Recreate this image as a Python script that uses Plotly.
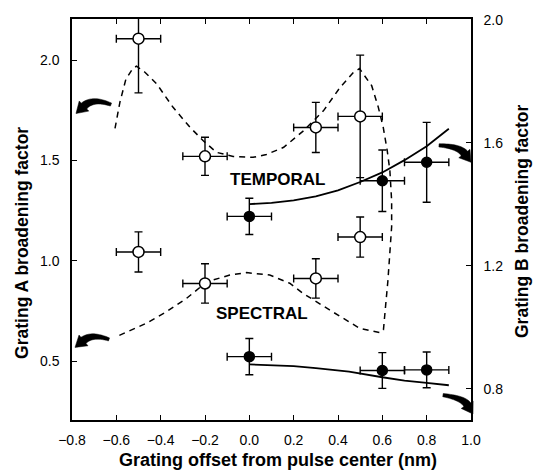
import math
import plotly.graph_objects as go

# ---------------- data ----------------
# Grating A (open circles, left axis)
a_temporal_x = [-0.5, -0.2, 0.3, 0.5]
a_temporal_y = [2.107, 1.521, 1.665, 1.72]
a_temporal_err = [0.27, 0.095, 0.125, 0.305]
a_spectral_x = [-0.5, -0.2, 0.3, 0.5]
a_spectral_y = [1.045, 0.888, 0.913, 1.119]
a_spectral_err = [0.10, 0.098, 0.098, 0.10]

# Grating B (filled circles, right axis)
b_temporal_x = [0.0, 0.6, 0.8]
b_temporal_y = [1.36, 1.476, 1.536]
b_temporal_err = [0.059, 0.10, 0.13]
b_spectral_x = [0.0, 0.6, 0.8]
b_spectral_y = [0.904, 0.859, 0.861]
b_spectral_err = [0.059, 0.058, 0.058]
x_err = 0.1

# Theory curve for grating A (dashed, left axis): temporal branch then spectral branch
curve_a_x = [-0.606, -0.584, -0.557, -0.525, -0.509, -0.471, -0.418, -0.344, -0.268,
             -0.209, -0.148, -0.073, 0.017, 0.077, 0.155, 0.245, 0.335, 0.41, 0.47,
             0.497, 0.552, 0.582, 0.604, 0.622, 0.634, 0.642, 0.642, 0.634, 0.625,
             0.615, 0.605, 0.589, 0.497, 0.362, 0.242, 0.182, 0.092, -0.013, -0.088,
             -0.164, -0.209, -0.283, -0.373, -0.464, -0.554, -0.60]
curve_a_y = [1.66, 1.79, 1.905, 1.96, 1.97, 1.94, 1.882, 1.765, 1.666,
             1.60, 1.541, 1.52, 1.516, 1.53, 1.566, 1.649, 1.749, 1.865, 1.94,
             1.958, 1.873, 1.765, 1.666, 1.55, 1.45, 1.30, 1.17, 1.02, 0.90,
             0.78, 0.657, 0.643, 0.665, 0.756, 0.839, 0.889, 0.930, 0.942, 0.930,
             0.905, 0.881, 0.814, 0.748, 0.690, 0.648, 0.623]

# Theory curves for grating B (solid, right axis)
curve_b_temporal_x = [0.0, 0.1, 0.2, 0.3, 0.4, 0.5, 0.6, 0.7, 0.8, 0.9]
curve_b_temporal_y = [1.40, 1.404, 1.412, 1.425, 1.445, 1.472, 1.503, 1.543, 1.588, 1.645]
curve_b_spectral_x = [0.0, 0.2, 0.3, 0.45, 0.6, 0.7, 0.8, 0.9]
curve_b_spectral_y = [0.879, 0.873, 0.867, 0.855, 0.837, 0.826, 0.819, 0.811]

x_ticks = [-0.8, -0.6, -0.4, -0.2, 0.0, 0.2, 0.4, 0.6, 0.8, 1.0]
ya_ticks = [0.5, 1.0, 1.5, 2.0]
yb_ticks = [0.8, 1.2, 1.6, 2.0]

# ---------------- figure ----------------
W, H = 534, 470
ML, MR, MT, MB = 72, 63, 17, 50
PW, PH = W - ML - MR, H - MT - MB

fig = go.Figure()

fig.add_trace(go.Scatter(x=curve_a_x, y=curve_a_y, mode="lines",
                         line=dict(color="black", width=1.5, dash="6px,5px"),
                         hoverinfo="skip"))
fig.add_trace(go.Scatter(x=curve_b_temporal_x, y=curve_b_temporal_y, mode="lines", yaxis="y2",
                         line=dict(color="black", width=1.8), hoverinfo="skip"))
fig.add_trace(go.Scatter(x=curve_b_spectral_x, y=curve_b_spectral_y, mode="lines", yaxis="y2",
                         line=dict(color="black", width=1.8), hoverinfo="skip"))

err_style = dict(color="black", thickness=1.4, width=4)


def add_points(xs, ys, errs, filled, axis):
    fig.add_trace(go.Scatter(
        x=xs, y=ys, mode="markers", yaxis=axis,
        marker=dict(size=11 if not filled else 10,
                    color="black" if filled else "white",
                    line=dict(color="black", width=1.5)),
        error_y=dict(type="data", array=errs, visible=True, **err_style),
        error_x=dict(type="constant", value=x_err, visible=True, **err_style),
    ))


add_points(a_temporal_x, a_temporal_y, a_temporal_err, False, "y")
add_points(a_spectral_x, a_spectral_y, a_spectral_err, False, "y")
add_points(b_temporal_x, b_temporal_y, b_temporal_err, True, "y2")
add_points(b_spectral_x, b_spectral_y, b_spectral_err, True, "y2")


# ---------------- curved arrows (decorations, pixel -> paper) ----------------
def px2paper(px, py):
    return (px - ML) / PW, (MT + PH - py) / PH


def curved_arrow(tail, ctrl, tip, headlen=11, headw=14, w0=1.6, w1=4.0):
    dx, dy = tip[0] - ctrl[0], tip[1] - ctrl[1]
    n = math.hypot(dx, dy)
    ux, uy = dx / n, dy / n
    base = (tip[0] - ux * headlen, tip[1] - uy * headlen)
    left, right = [], []
    N = 16
    for i in range(N + 1):
        t = i / N
        bx = (1 - t) ** 2 * tail[0] + 2 * (1 - t) * t * ctrl[0] + t * t * base[0]
        by = (1 - t) ** 2 * tail[1] + 2 * (1 - t) * t * ctrl[1] + t * t * base[1]
        tx = 2 * (1 - t) * (ctrl[0] - tail[0]) + 2 * t * (base[0] - ctrl[0])
        ty = 2 * (1 - t) * (ctrl[1] - tail[1]) + 2 * t * (base[1] - ctrl[1])
        tn = math.hypot(tx, ty)
        nx, ny = -ty / tn, tx / tn
        hw = w0 + (w1 - w0) * t
        left.append((bx + nx * hw, by + ny * hw))
        right.append((bx - nx * hw, by - ny * hw))
    nx, ny = -uy, ux
    h1 = (base[0] + nx * headw / 2, base[1] + ny * headw / 2)
    h2 = (base[0] - nx * headw / 2, base[1] - ny * headw / 2)
    pts = left + [h1, tip, h2] + right[::-1]
    path = ""
    for i, (px, py) in enumerate(pts):
        X, Y = px2paper(px, py)
        path += ("M" if i == 0 else "L") + f"{X:.4f},{Y:.4f} "
    path += "Z"
    fig.add_shape(type="path", path=path, xref="paper", yref="paper",
                  fillcolor="black", line=dict(color="black", width=0.5))


curved_arrow((111, 103), (93, 96), (76, 112))
curved_arrow((109, 339), (92, 333), (75, 347))
curved_arrow((439, 144), (459, 145), (471, 161))
curved_arrow((443, 395), (463, 398), (473, 414))

# ---------------- text ----------------
label_font = dict(family="Liberation Sans", size=17, color="black")
fig.add_annotation(x=0.128, y=1.407, xref="x", yref="y", text="<b>TEMPORAL</b>",
                   showarrow=False, font=label_font)
fig.add_annotation(x=0.056, y=0.738, xref="x", yref="y", text="<b>SPECTRAL</b>",
                   showarrow=False, font=label_font)

title_font = dict(family="Liberation Sans", size=17.5, color="black")
lx, ly = px2paper(22, 242)
fig.add_annotation(x=lx, y=ly, xref="paper", yref="paper", text="<b>Grating A broadening factor</b>",
                   textangle=-90, showarrow=False, font=title_font, xanchor="center", yanchor="middle")
rx, ry = px2paper(522, 220)
fig.add_annotation(x=rx, y=ry, xref="paper", yref="paper", text="<b>Grating B broadening factor</b>",
                   textangle=-90, showarrow=False, font=title_font, xanchor="center", yanchor="middle")
bx, by = px2paper(278, 460)
fig.add_annotation(x=bx, y=by, xref="paper", yref="paper",
                   text="<b>Grating offset from pulse center (nm)</b>",
                   showarrow=False, font=dict(family="Liberation Sans", size=18, color="black"),
                   xanchor="center", yanchor="middle")

tick_font = dict(family="Liberation Sans", size=14, color="black")
axis_common = dict(showgrid=False, zeroline=False, showline=True, linecolor="black", linewidth=1.5,
                   ticks="inside", ticklen=5, tickwidth=1.2, tickcolor="black",
                   tickfont=tick_font, tickformat=".1f")

fig.update_layout(
    width=W, height=H, margin=dict(l=ML, r=MR, t=MT, b=MB),
    plot_bgcolor="white", paper_bgcolor="white", showlegend=False,
    xaxis=dict(range=[-0.8, 1.0], tickvals=x_ticks, mirror="ticks", ticklabelstandoff=6, **axis_common),
    yaxis=dict(range=[0.208, 2.205], tickvals=ya_ticks, ticklabelstandoff=8, **axis_common),
    yaxis2=dict(range=[0.698, 2.002], tickvals=yb_ticks, overlaying="y", side="right",
                ticklabelstandoff=8, **axis_common),
)

fig.write_html("out.html")
